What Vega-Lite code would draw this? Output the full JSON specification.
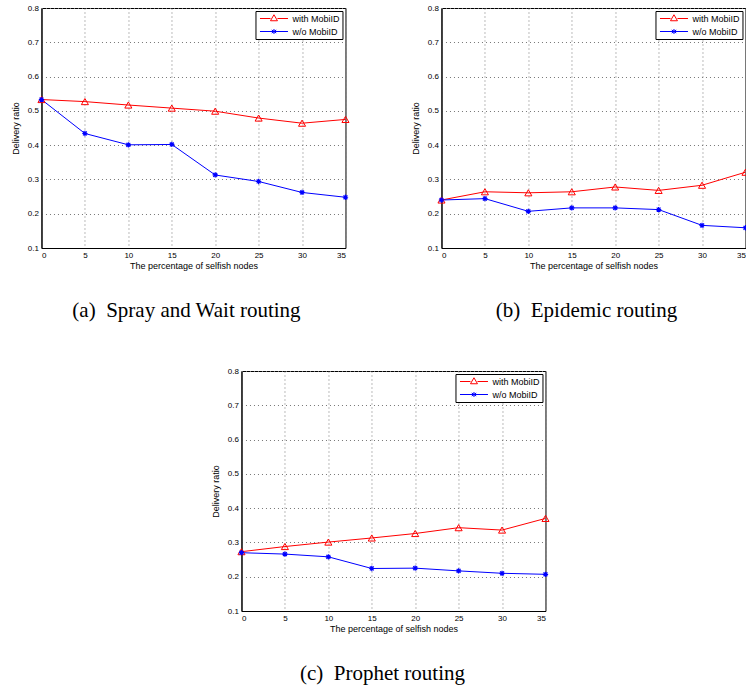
{
  "$schema": "https://vega.github.io/schema/vega-lite/v6.json",
  "padding": {"left": 10, "top": 3, "right": 0, "bottom": 0},
  "background": "white",
  "data": {"values": [
    {"panel": "a", "series": "with MobiID", "x": 0, "y": 0.533},
    {"panel": "a", "series": "with MobiID", "x": 5, "y": 0.527},
    {"panel": "a", "series": "with MobiID", "x": 10, "y": 0.517},
    {"panel": "a", "series": "with MobiID", "x": 15, "y": 0.508},
    {"panel": "a", "series": "with MobiID", "x": 20, "y": 0.499},
    {"panel": "a", "series": "with MobiID", "x": 25, "y": 0.479},
    {"panel": "a", "series": "with MobiID", "x": 30, "y": 0.464},
    {"panel": "a", "series": "with MobiID", "x": 35, "y": 0.475},
    {"panel": "a", "series": "w/o MobiID", "x": 0, "y": 0.533},
    {"panel": "a", "series": "w/o MobiID", "x": 5, "y": 0.434},
    {"panel": "a", "series": "w/o MobiID", "x": 10, "y": 0.401},
    {"panel": "a", "series": "w/o MobiID", "x": 15, "y": 0.402},
    {"panel": "a", "series": "w/o MobiID", "x": 20, "y": 0.313},
    {"panel": "a", "series": "w/o MobiID", "x": 25, "y": 0.294},
    {"panel": "a", "series": "w/o MobiID", "x": 30, "y": 0.262},
    {"panel": "a", "series": "w/o MobiID", "x": 35, "y": 0.248},
    {"panel": "b", "series": "with MobiID", "x": 0, "y": 0.240},
    {"panel": "b", "series": "with MobiID", "x": 5, "y": 0.264},
    {"panel": "b", "series": "with MobiID", "x": 10, "y": 0.261},
    {"panel": "b", "series": "with MobiID", "x": 15, "y": 0.264},
    {"panel": "b", "series": "with MobiID", "x": 20, "y": 0.278},
    {"panel": "b", "series": "with MobiID", "x": 25, "y": 0.268},
    {"panel": "b", "series": "with MobiID", "x": 30, "y": 0.283},
    {"panel": "b", "series": "with MobiID", "x": 35, "y": 0.321},
    {"panel": "b", "series": "w/o MobiID", "x": 0, "y": 0.240},
    {"panel": "b", "series": "w/o MobiID", "x": 5, "y": 0.244},
    {"panel": "b", "series": "w/o MobiID", "x": 10, "y": 0.207},
    {"panel": "b", "series": "w/o MobiID", "x": 15, "y": 0.217},
    {"panel": "b", "series": "w/o MobiID", "x": 20, "y": 0.217},
    {"panel": "b", "series": "w/o MobiID", "x": 25, "y": 0.212},
    {"panel": "b", "series": "w/o MobiID", "x": 30, "y": 0.166},
    {"panel": "b", "series": "w/o MobiID", "x": 35, "y": 0.159},
    {"panel": "c", "series": "with MobiID", "x": 0, "y": 0.273},
    {"panel": "c", "series": "with MobiID", "x": 5, "y": 0.288},
    {"panel": "c", "series": "with MobiID", "x": 10, "y": 0.301},
    {"panel": "c", "series": "with MobiID", "x": 15, "y": 0.313},
    {"panel": "c", "series": "with MobiID", "x": 20, "y": 0.326},
    {"panel": "c", "series": "with MobiID", "x": 25, "y": 0.343},
    {"panel": "c", "series": "with MobiID", "x": 30, "y": 0.336},
    {"panel": "c", "series": "with MobiID", "x": 35, "y": 0.370},
    {"panel": "c", "series": "w/o MobiID", "x": 0, "y": 0.270},
    {"panel": "c", "series": "w/o MobiID", "x": 5, "y": 0.266},
    {"panel": "c", "series": "w/o MobiID", "x": 10, "y": 0.258},
    {"panel": "c", "series": "w/o MobiID", "x": 15, "y": 0.224},
    {"panel": "c", "series": "w/o MobiID", "x": 20, "y": 0.225},
    {"panel": "c", "series": "w/o MobiID", "x": 25, "y": 0.217},
    {"panel": "c", "series": "w/o MobiID", "x": 30, "y": 0.210},
    {"panel": "c", "series": "w/o MobiID", "x": 35, "y": 0.207}
  ]},
  "vconcat": [
    {
      "hconcat": [
        {
          "width": 304, "height": 240,
          "title": {"text": "(a)\u00a0 Spray and Wait routing", "dx": -7},
          "transform": [{"filter": "datum.panel === 'a'"}],
          "encoding": {
            "x": {"field": "x", "type": "quantitative", "scale": {"domain": [0, 35], "nice": false}, "axis": {"values": [0, 5, 10, 15, 20, 25, 30, 35], "title": "The percentage of selfish nodes"}},
            "y": {"field": "y", "type": "quantitative", "scale": {"domain": [0.1, 0.8], "nice": false, "zero": false}, "axis": {"values": [0.1, 0.2, 0.3, 0.4, 0.5, 0.6, 0.7, 0.8], "format": ".1f", "title": "Delivery ratio"}},
            "color": {"field": "series", "type": "nominal", "scale": {"domain": ["with MobiID", "w/o MobiID"], "range": ["#ff0000", "#0000ff"]}, "legend": {"orient": "top-right", "title": null, "encode": {"symbols": {"update": {"shape": {"signal": "datum.value === 'with MobiID' ? 'M-2.8,0L-0.7,0M0.7,0L2.8,0M0,-0.75L0.7,0.45L-0.7,0.45Z' : 'M-2.8,0L2.8,0M0,-0.5L0,0.5M-0.45,-0.3L0.45,0.3M-0.45,0.3L0.45,-0.3'"}, "fill": {"value": "transparent"}, "strokeWidth": {"value": 1}, "opacity": {"value": 1}}}}}}
          },
          "layer": [
            {"mark": {"type": "line", "strokeWidth": 1}},
            {"transform": [{"filter": "datum.series === 'with MobiID'"}], "mark": {"type": "point", "shape": "triangle-up", "filled": false, "size": 50, "strokeWidth": 1, "opacity": 1}},
            {"transform": [{"filter": "datum.series === 'w/o MobiID'"}], "mark": {"type": "point", "shape": "M-0.75,0L0.75,0M0,-0.75L0,0.75M-0.55,-0.55L0.55,0.55M-0.55,0.55L0.55,-0.55", "filled": false, "size": 50, "strokeWidth": 1.2, "opacity": 1}}
          ]
        },
        {
          "width": 304, "height": 240,
          "title": {"text": "(b)\u00a0 Epidemic routing", "dx": -7},
          "transform": [{"filter": "datum.panel === 'b'"}],
          "encoding": {
            "x": {"field": "x", "type": "quantitative", "scale": {"domain": [0, 35], "nice": false}, "axis": {"values": [0, 5, 10, 15, 20, 25, 30, 35], "title": "The percentage of selfish nodes"}},
            "y": {"field": "y", "type": "quantitative", "scale": {"domain": [0.1, 0.8], "nice": false, "zero": false}, "axis": {"values": [0.1, 0.2, 0.3, 0.4, 0.5, 0.6, 0.7, 0.8], "format": ".1f", "title": "Delivery ratio"}},
            "color": {"field": "series", "type": "nominal", "scale": {"domain": ["with MobiID", "w/o MobiID"], "range": ["#ff0000", "#0000ff"]}, "legend": {"orient": "top-right", "title": null, "encode": {"symbols": {"update": {"shape": {"signal": "datum.value === 'with MobiID' ? 'M-2.8,0L-0.7,0M0.7,0L2.8,0M0,-0.75L0.7,0.45L-0.7,0.45Z' : 'M-2.8,0L2.8,0M0,-0.5L0,0.5M-0.45,-0.3L0.45,0.3M-0.45,0.3L0.45,-0.3'"}, "fill": {"value": "transparent"}, "strokeWidth": {"value": 1}, "opacity": {"value": 1}}}}}}
          },
          "layer": [
            {"mark": {"type": "line", "strokeWidth": 1}},
            {"transform": [{"filter": "datum.series === 'with MobiID'"}], "mark": {"type": "point", "shape": "triangle-up", "filled": false, "size": 50, "strokeWidth": 1, "opacity": 1}},
            {"transform": [{"filter": "datum.series === 'w/o MobiID'"}], "mark": {"type": "point", "shape": "M-0.75,0L0.75,0M0,-0.75L0,0.75M-0.55,-0.55L0.55,0.55M-0.55,0.55L0.55,-0.55", "filled": false, "size": 50, "strokeWidth": 1.2, "opacity": 1}}
          ]
        }
      ],
      "spacing": 58,
      "resolve": {"scale": {"color": "independent"}, "legend": {"color": "independent"}}
    },
    {
      "width": 304, "height": 240,
      "title": {"text": "(c)\u00a0 Prophet routing", "dx": -11},
      "transform": [{"filter": "datum.panel === 'c'"}],
      "encoding": {
        "x": {"field": "x", "type": "quantitative", "scale": {"domain": [0, 35], "nice": false}, "axis": {"values": [0, 5, 10, 15, 20, 25, 30, 35], "title": "The percentage of selfish nodes"}},
        "y": {"field": "y", "type": "quantitative", "scale": {"domain": [0.1, 0.8], "nice": false, "zero": false}, "axis": {"values": [0.1, 0.2, 0.3, 0.4, 0.5, 0.6, 0.7, 0.8], "format": ".1f", "title": "Delivery ratio"}},
        "color": {"field": "series", "type": "nominal", "scale": {"domain": ["with MobiID", "w/o MobiID"], "range": ["#ff0000", "#0000ff"]}, "legend": {"orient": "top-right", "title": null, "encode": {"symbols": {"update": {"shape": {"signal": "datum.value === 'with MobiID' ? 'M-2.8,0L-0.7,0M0.7,0L2.8,0M0,-0.75L0.7,0.45L-0.7,0.45Z' : 'M-2.8,0L2.8,0M0,-0.5L0,0.5M-0.45,-0.3L0.45,0.3M-0.45,0.3L0.45,-0.3'"}, "fill": {"value": "transparent"}, "strokeWidth": {"value": 1}, "opacity": {"value": 1}}}}}}
      },
      "layer": [
        {"mark": {"type": "line", "strokeWidth": 1}},
        {"transform": [{"filter": "datum.series === 'with MobiID'"}], "mark": {"type": "point", "shape": "triangle-up", "filled": false, "size": 50, "strokeWidth": 1, "opacity": 1}},
        {"transform": [{"filter": "datum.series === 'w/o MobiID'"}], "mark": {"type": "point", "shape": "M-0.75,0L0.75,0M0,-0.75L0,0.75M-0.55,-0.55L0.55,0.55M-0.55,0.55L0.55,-0.55", "filled": false, "size": 50, "strokeWidth": 1.2, "opacity": 1}}
      ]
    }
  ],
  "spacing": 44,
  "center": true,
  "resolve": {"scale": {"color": "independent"}, "legend": {"color": "independent"}},
  "config": {
    "view": {"stroke": "black", "strokeWidth": 1},
    "axis": {
      "labelFont": "Liberation Sans", "labelFontSize": 8, "labelColor": "black", "labelPadding": 3,
      "titleFont": "Liberation Sans", "titleFontSize": 9, "titleFontWeight": "normal", "titleColor": "black",
      "domainColor": "black", "ticks": false,
      "grid": true, "gridColor": "#777777", "gridDash": [1, 3], "gridOpacity": 1
    },
    "axisY": {"titlePadding": 7},
    "axisX": {"titlePadding": 2},
    "title": {"font": "Liberation Serif", "fontSize": 21, "fontWeight": "normal", "color": "black", "orient": "bottom", "offset": 30, "anchor": "middle"},
    "legend": {
      "strokeColor": "black", "fillColor": "white", "padding": 2, "offset": 3,
      "labelFont": "Liberation Sans", "labelFontSize": 9, "labelColor": "black",
      "symbolSize": 100, "symbolOffset": 11, "labelOffset": 13, "rowPadding": 2,
      "symbolStrokeWidth": 1
    }
  }
}
